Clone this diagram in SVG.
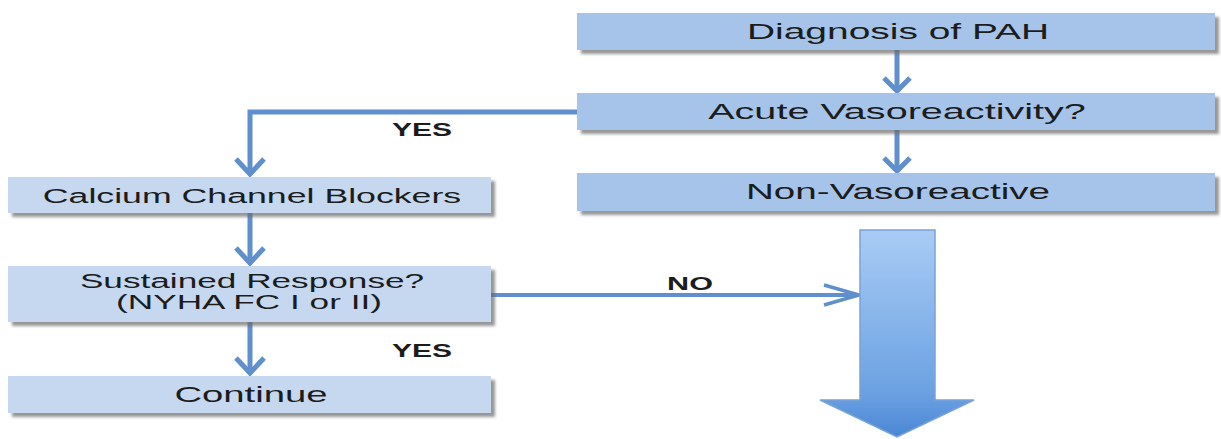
<svg xmlns="http://www.w3.org/2000/svg" width="1221" height="439" viewBox="0 0 1221 439">
  <style>
    .box-main { fill: #a6c4ea; filter: url(#shadow); }
    .box-side { fill: #c5d8ef; filter: url(#shadow); }
    .label { font-family: "Liberation Sans", Arial, sans-serif; font-size: 21px; fill: #1c1c1c; text-anchor: middle; }
    .label-lg { font-size: 22px; }
    .label-sm { font-size: 20px; }
    .tag { font-family: "Liberation Sans", Arial, sans-serif; font-size: 18px; font-weight: bold; fill: #1c1c1c; text-anchor: middle; }
    .link { fill: none; stroke: #5f8fcc; stroke-width: 5; }
    .head { fill: none; stroke: #5f8fcc; stroke-width: 5; stroke-linejoin: miter; }
    .link-thin { fill: none; stroke: #5f8fcc; stroke-width: 4; }
    .head-thin { fill: none; stroke: #5f8fcc; stroke-width: 3.5; }
  </style>
  <defs>
    <filter id="shadow" x="-5%" y="-20%" width="110%" height="150%">
      <feDropShadow dx="4" dy="4" stdDeviation="1.5" flood-color="#6a6a6a" flood-opacity="0.7"/>
    </filter>
    <linearGradient id="bigArrowFill" x1="0" y1="0" x2="0" y2="1">
      <stop offset="0" stop-color="#a9ccf5"/>
      <stop offset="0.8" stop-color="#6aa0e2"/>
      <stop offset="1" stop-color="#4a86d4"/>
    </linearGradient>
  </defs>

  <rect width="1221" height="439" fill="#ffffff"/>

  <!-- connectors -->
  <g id="connectors">
    <!-- Diagnosis -> Acute -->
    <line class="link" x1="897" y1="50" x2="897" y2="90"/>
    <polyline class="head" points="884,78 897,91 910,78"/>
    <!-- Acute -> Non-Vasoreactive -->
    <line class="link" x1="897" y1="130" x2="897" y2="170"/>
    <polyline class="head" points="884,158 897,171 910,158"/>
    <!-- Acute -> CCB (YES) -->
    <polyline class="link" points="577,112 250,112 250,174"/>
    <polyline class="head" points="236,159 250,174 264,159"/>
    <!-- CCB -> Sustained -->
    <line class="link" x1="250" y1="213" x2="250" y2="263"/>
    <polyline class="head" points="236,248 250,263 264,248"/>
    <!-- Sustained -> Continue (YES) -->
    <line class="link" x1="250" y1="322" x2="250" y2="373"/>
    <polyline class="head" points="236,358 250,373 264,358"/>
    <!-- Sustained -> big arrow (NO) -->
    <line class="link-thin" x1="491" y1="295" x2="858" y2="295"/>
    <polyline class="head-thin" points="824,285 859,295 824,305"/>
    <!-- big downward arrow -->
    <path d="M860,230 H935 V400 H974 L897,437 L820,400 H860 Z" fill="url(#bigArrowFill)" stroke="#7aa3d8" stroke-width="1.5"/>
  </g>

  <g id="tag-yes-1"><text class="tag" transform="translate(422,136) scale(1.67,1)">YES</text></g>
  <g id="tag-yes-2"><text class="tag" transform="translate(422,357) scale(1.67,1)">YES</text></g>
  <g id="tag-no"><text class="tag" transform="translate(690,290) scale(1.7,1)">NO</text></g>

  <!-- right column -->
  <g id="node-diagnosis">
    <rect class="box-main" x="577" y="13" width="638" height="37"/>
    <text class="label label-lg" transform="translate(898,39) scale(1.77,1)">Diagnosis of PAH</text>
  </g>
  <g id="node-acute">
    <rect class="box-main" x="577" y="93" width="638" height="37"/>
    <text class="label label-lg" transform="translate(897,119) scale(1.8,1)">Acute Vasoreactivity?</text>
  </g>
  <g id="node-nonvaso">
    <rect class="box-main" x="577" y="173" width="638" height="38"/>
    <text class="label label-lg" transform="translate(898,199) scale(1.756,1)">Non-Vasoreactive</text>
  </g>

  <!-- left column -->
  <g id="node-ccb">
    <rect class="box-side" x="8" y="177" width="483" height="36"/>
    <text class="label" transform="translate(252,203) scale(1.7,1)">Calcium Channel Blockers</text>
  </g>
  <g id="node-sustained">
    <rect class="box-side" x="8" y="266" width="483" height="56"/>
    <text class="label label-sm" transform="translate(252,288) scale(1.76,1)">Sustained Response?</text>
    <text class="label label-sm" transform="translate(249,309) scale(1.76,1)">(NYHA FC I or II)</text>
  </g>
  <g id="node-continue">
    <rect class="box-side" x="8" y="376" width="483" height="37"/>
    <text class="label label-lg" transform="translate(251,402) scale(1.74,1)">Continue</text>
  </g>
</svg>
